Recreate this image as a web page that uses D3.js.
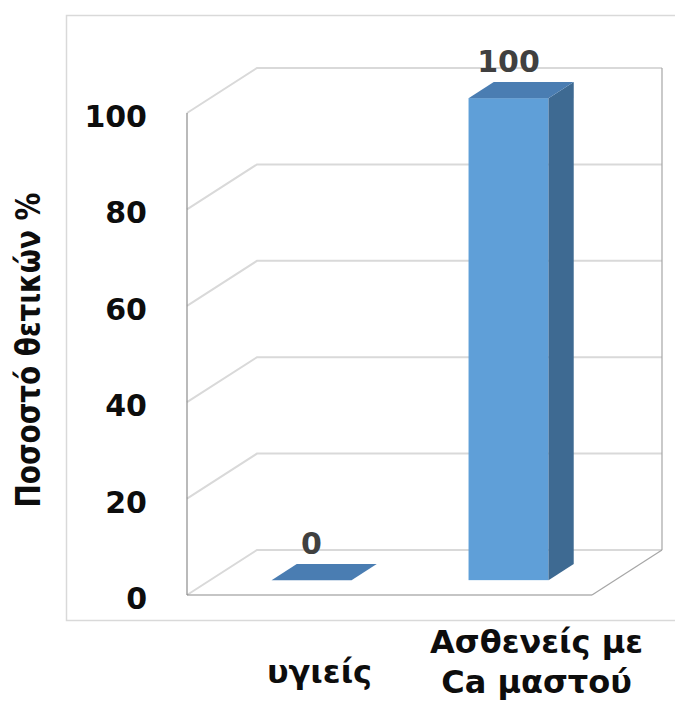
<!DOCTYPE html>
<html>
<head>
<meta charset="utf-8">
<script src="https://cdn.jsdelivr.net/npm/d3@7"></script>
<style>
  body { margin: 0; background: #fff; }
  text { font-family: "DejaVu Sans", Verdana, sans-serif; font-weight: bold; }
</style>
</head>
<body>
<div id="chart"></div>
<script>
// data
const categories = ["υγιείς", "Ασθενείς με Ca μαστού"];
const categoryLines = [["υγιείς"], ["Ασθενείς με", "Ca μαστού"]];
const values = [0, 100];
const yTicks = [0, 20, 40, 60, 80, 100];
const yTitle = "Ποσοστό θετικών %";

function drawChart() {
    const W = 675, H = 702;
    // 3d depth offset of the back wall
    const depth = {dx: 70, dy: -45};
    const barFront = 0.33, barBack = 0.69;

    const svg = d3.select("#chart")
        .append("svg")
        .attr("width", W)
        .attr("height", H);

    // outer frame
    svg.append("rect")
        .attr("x", 66.5).attr("y", 15.5)
        .attr("width", 640).attr("height", 605)
        .attr("fill", "none")
        .attr("stroke", "#d9d9d9")
        .attr("stroke-width", 1.5);

    const x = d3.scaleBand()
        .domain(categories)
        .range([187, 592])
        .paddingInner(0.594)
        .paddingOuter(0.325)
        .align(0.48);

    const y = d3.scaleLinear()
        .domain([0, 100])
        .range([595, 113]);

    const x0 = x.range()[0], x1 = x.range()[1];

    // back wall gridlines + left wall diagonals
    const grid = svg.append("g");
    yTicks.forEach(t => {
        grid.append("polyline")
            .attr("points", [
                [x0, y(t)],
                [x0 + depth.dx, y(t) + depth.dy],
                [x1 + depth.dx, y(t) + depth.dy]
            ].join(" "))
            .attr("fill", "none")
            .attr("stroke", "#d9d9d9")
            .attr("stroke-width", 2);
    });

    // back right edge
    svg.append("line")
        .attr("x1", x1 + depth.dx).attr("y1", y(100) + depth.dy)
        .attr("x2", x1 + depth.dx).attr("y2", y(0) + depth.dy)
        .attr("stroke", "#a6a6a6").attr("stroke-width", 1.2);

    // floor right diagonal
    svg.append("line")
        .attr("x1", x1).attr("y1", y(0))
        .attr("x2", x1 + depth.dx).attr("y2", y(0) + depth.dy)
        .attr("stroke", "#a6a6a6").attr("stroke-width", 1.2);

    // front floor edge
    svg.append("line")
        .attr("x1", x0).attr("y1", y(0))
        .attr("x2", x1).attr("y2", y(0))
        .attr("stroke", "#8c8c8c").attr("stroke-width", 1.2);

    // front left axis line
    svg.append("line")
        .attr("x1", x0).attr("y1", y(100))
        .attr("x2", x0).attr("y2", y(0))
        .attr("stroke", "#8c8c8c").attr("stroke-width", 1.2);

    // y tick labels
    const yAxis = svg.append("g")
        .attr("transform", `translate(${x0},0)`)
        .call(d3.axisLeft(y).tickValues(yTicks).tickSize(0).tickPadding(40));
    yAxis.select(".domain").remove();
    yAxis.selectAll("text")
        .attr("dy", "0.45em")
        .style("font-size", "30px")
        .style("font-family", "DejaVu Sans")
        .style("font-weight", "bold")
        .attr("fill", "#0d0d0d");

    // bars
    const fdx = depth.dx * barFront, fdy = depth.dy * barFront;
    const bdx = depth.dx * barBack, bdy = depth.dy * barBack;
    const bw = x.bandwidth();

    const bars = svg.append("g")
        .selectAll("g")
        .data(categories.map((c, i) => ({c, v: values[i]})))
        .enter()
        .append("g");

    // front face
    bars.filter(d => d.v > 0).append("rect")
        .attr("x", d => x(d.c) + fdx)
        .attr("y", d => y(d.v) + fdy)
        .attr("width", bw)
        .attr("height", d => y(0) - y(d.v))
        .attr("fill", "#5f9fd8");

    // side face
    bars.filter(d => d.v > 0).append("polygon")
        .attr("points", d => [
            [x(d.c) + bw + fdx, y(d.v) + fdy],
            [x(d.c) + bw + bdx, y(d.v) + bdy],
            [x(d.c) + bw + bdx, y(0) + bdy],
            [x(d.c) + bw + fdx, y(0) + fdy]
        ].join(" "))
        .attr("fill", "#3e6a92");

    // top face
    bars.append("polygon")
        .attr("points", d => [
            [x(d.c) + fdx, y(d.v) + fdy],
            [x(d.c) + bw + fdx, y(d.v) + fdy],
            [x(d.c) + bw + bdx, y(d.v) + bdy],
            [x(d.c) + bdx, y(d.v) + bdy]
        ].join(" "))
        .attr("fill", "#4a7db2");

    // value labels
    bars.append("text")
        .attr("x", d => x(d.c) + bw / 2 + fdx)
        .attr("y", d => y(d.v) + bdy - 10)
        .attr("text-anchor", "middle")
        .style("font-size", "30px")
        .attr("fill", "#404040")
        .text(d => d.v);

    // category labels
    const labelX = d3.scaleBand().domain(categories).range([211, 645]);
    categories.forEach((c, i) => {
        const lines = categoryLines[i];
        const t = svg.append("text")
            .attr("text-anchor", "middle")
            .style("font-size", "32px")
            .attr("fill", "#0d0d0d");
        lines.forEach((l, j) => {
            t.append("tspan")
                .attr("x", labelX(c) + labelX.bandwidth() / 2)
                .attr("y", 683 - (lines.length - 1) * 30 + j * 40)
                .text(l);
        });
    });

    // y axis title
    svg.append("text")
        .attr("transform", "translate(40,350) rotate(-90)")
        .attr("text-anchor", "middle")
        .style("font-size", "34px")
        .attr("textLength", 315)
        .attr("lengthAdjust", "spacingAndGlyphs")
        .attr("fill", "#0d0d0d")
        .text(yTitle);
}

drawChart();
</script>
</body>
</html>
